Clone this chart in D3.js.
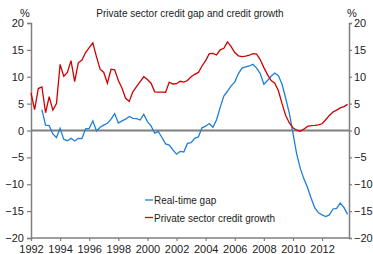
<!DOCTYPE html>
<html><head><meta charset="utf-8">
<script src="https://cdn.jsdelivr.net/npm/d3@7"></script>
<style>body{margin:0;background:#fff}svg{display:block}text{font-family:"Liberation Sans",Arial,sans-serif;fill:#222}</style>
</head><body>
<script>
const title = "Private sector credit gap and credit growth";
const seriesNames = ["Real-time gap", "Private sector credit growth"];
const yTicks = [-20, -15, -10, -5, 0, 5, 10, 15, 20];
const xTicks = [1992,1994,1996,1998,2000,2002,2004,2006,2008,2010,2012];
// quarterly, starting 1992Q1
const creditStart = 1992.0;
const creditGrowth = [7.0,3.9,7.8,8.1,3.3,6.3,3.8,5.0,12.3,10.1,10.8,13.0,9.1,12.6,13.1,14.5,15.4,16.3,13.7,11.4,
10.8,8.8,11.4,11.3,9.3,7.9,6.0,5.4,7.2,8.15,9.1,10.0,9.5,8.8,7.2,7.15,7.15,7.1,9.0,8.65,
8.7,9.15,9.0,9.3,10.0,10.45,10.8,12.0,13.0,14.3,14.35,14.05,15.0,15.3,16.5,15.6,14.5,13.9,13.75,13.85,
14.0,14.3,14.2,13.2,11.7,10.4,9.3,8.8,7.4,5.0,2.8,1.4,0.5,0.05,-0.15,0.25,0.75,0.9,0.95,1.05,
1.25,2.0,2.8,3.45,3.8,4.2,4.45,4.85];
// quarterly, starting 1992Q4
const gapStart = 1992.75;
const realTimeGap = [3.9,1.0,0.9,-0.65,-1.3,0.4,-1.65,-1.9,-1.45,-1.95,-1.45,-1.5,0.3,0.4,1.8,-0.1,0.6,1.0,1.35,2.1,
3.15,1.4,1.8,2.1,2.6,2.25,2.2,1.95,3.0,1.65,0.85,-0.5,-0.2,-1.3,-2.5,-2.7,-3.6,-4.4,-3.9,-4.0,
-2.4,-2.25,-1.45,-1.2,0.5,0.8,1.3,0.6,2.0,4.3,6.4,7.3,8.3,9.0,10.6,11.6,11.85,12.0,12.3,11.6,
10.6,8.6,9.3,10.1,10.7,10.2,8.6,6.0,3.2,-0.5,-4.3,-7.0,-9.0,-10.6,-12.6,-14.4,-15.3,-15.7,-16.0,-15.7,
-14.6,-14.5,-13.5,-14.3,-15.6];

const W = 373, H = 254;
const m = {l:31, r:24, t:23, b:16};
const svg = d3.select("body").append("svg").attr("width", W).attr("height", H);
const x = d3.scaleLinear().domain([1992, 2013.85]).range([m.l, W - m.r]);
const y = d3.scaleLinear().domain([-20, 20]).range([H - m.b, m.t]);
const gray = "#7f7f7f";

// axes
const left = svg.append("g").attr("transform", `translate(${m.l},0)`)
  .call(d3.axisLeft(y).tickValues(yTicks).tickSize(4).tickPadding(3).tickFormat(d3.format("d")));
const right = svg.append("g").attr("transform", `translate(${W - m.r},0)`)
  .call(d3.axisRight(y).tickValues(yTicks).tickSize(3).tickPadding(2).tickFormat(d3.format("d")));
const bottom = svg.append("g").attr("transform", `translate(0,${H - m.b})`)
  .call(d3.axisBottom(x).tickValues(xTicks).tickSize(3).tickPadding(4).tickFormat(d3.format("d")));
[left, right, bottom].forEach(g => {
  g.select(".domain").attr("stroke", gray).attr("stroke-width", 1.5);
  g.selectAll(".tick line").attr("stroke", gray).attr("stroke-width", 1.2);
  g.selectAll(".tick text").style("font-size", "11px").attr("fill", "#222");
});
bottom.select(".domain").attr("d", `M${m.l},0H${W - m.r}`);

// zero line
svg.append("line").attr("x1", m.l).attr("x2", W - m.r).attr("y1", y(0)).attr("y2", y(0))
  .attr("stroke", gray).attr("stroke-width", 2);

const line = d3.line().x(d => x(d[0])).y(d => y(d[1]));
const gapData = realTimeGap.map((v, i) => [gapStart + i * 0.25, v]);
const creditData = creditGrowth.map((v, i) => [creditStart + i * 0.25, v]);
svg.append("path").datum(gapData).attr("d", line).attr("fill", "none").attr("stroke", "#1f7fd8").attr("stroke-width", 1.3);
svg.append("path").datum(creditData).attr("d", line).attr("fill", "none").attr("stroke", "#d00000").attr("stroke-width", 1.3);

// title and units
svg.append("text").attr("x", 190).attr("y", 17).attr("text-anchor", "middle").style("font-size", "10px").text(title);
svg.append("text").attr("x", 25).attr("y", 17).attr("text-anchor", "middle").style("font-size", "11px").text("%");
svg.append("text").attr("x", 352).attr("y", 17).attr("text-anchor", "middle").style("font-size", "11px").text("%");

// legend
const colors = ["#1f7fd8", "#d00000"];
seriesNames.forEach((n, i) => {
  const yy = 200 + i * 17.5;
  svg.append("line").attr("x1", 145).attr("x2", 153).attr("y1", yy).attr("y2", yy).attr("stroke", colors[i]).attr("stroke-width", 1.3);
  svg.append("text").attr("x", 154).attr("y", yy + 4).style("font-size", "10px").text(n);
});
</script>
</body></html>
